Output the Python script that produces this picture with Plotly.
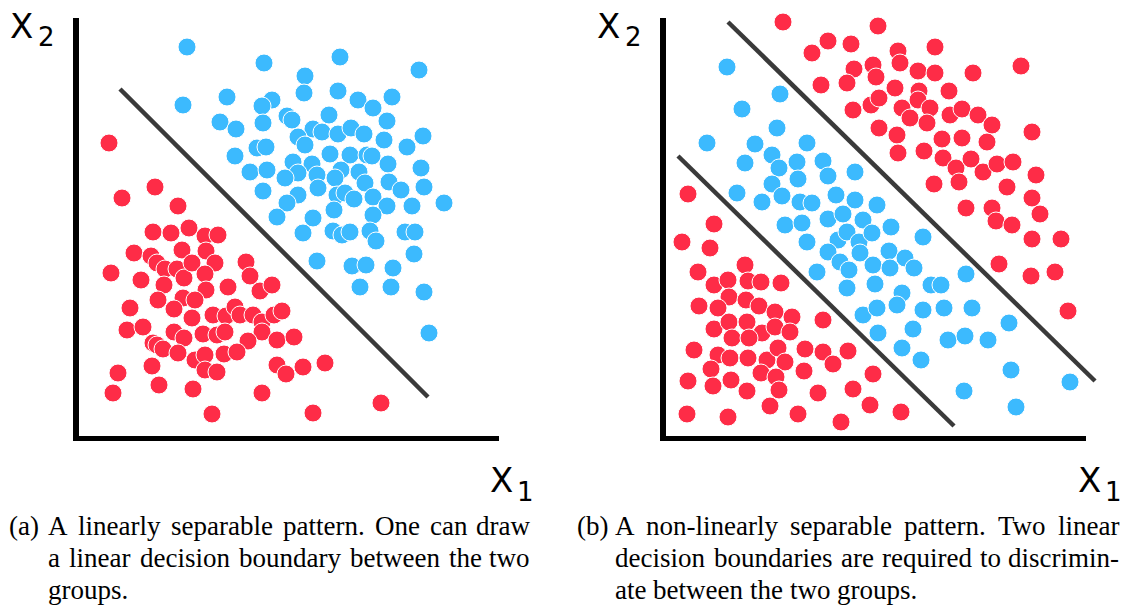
import plotly.graph_objects as go

W, H = 1129, 608

# ---------------- Panel (a): linearly separable ----------------
a_blue_x1 = [108,185,261,340,226,104,148,193,183,225,259,279,294,313,141,157,184,208,213,250,308,234,243,259,272,285,219,305,344,178,187,226,328,156,251,271,288,293,214,233,309,342,171,188,219,238,262,256,280,206,286,310,322,345,184,239,219,258,266,275,294,208,308,333,365,255,198,234,294,224,254,263,271,291,297,326,336,335,238,273,287,314,281,312,345,350]
a_blue_x2 = [389,373,379,366,360,331,339,336,330,343,345,336,328,339,314,307,313,320,316,321,315,307,304,302,308,302,299,296,300,288,289,291,289,280,282,281,281,280,274,272,272,268,264,266,263,261,266,258,264,258,253,254,246,249,245,248,241,241,243,237,239,233,230,230,233,226,219,218,221,203,205,201,204,205,195,204,204,182,175,170,171,168,149,149,144,103]
a_red_x1 = [30,76,43,99,74,92,110,126,139,55,72,103,127,32,78,86,98,105,113,136,126,62,85,127,149,167,171,181,193,79,104,116,95,51,113,134,147,156,161,174,183,195,203,48,64,95,105,124,138,146,183,169,198,215,74,78,84,99,116,126,126,138,145,158,39,73,80,34,114,198,207,183,133,224,246,234,302]
a_red_x2 = [293,249,238,230,204,203,208,200,201,183,180,186,185,163,173,167,167,158,173,173,162,156,151,146,149,174,160,145,151,136,138,136,127,128,118,121,120,129,121,121,114,121,125,106,109,104,98,102,101,104,104,95,96,99,93,91,87,83,76,81,66,64,82,84,63,70,51,43,47,71,62,43,22,69,73,23,33]
a_boundary_x1 = [41, 349]
a_boundary_x2 = [347, 39]

# ---------------- Panel (b): non-linearly separable ----------------
b_blue_x1 = [61,114,76,111,41,89,141,106,79,131,157,113,132,162,189,106,71,96,116,134,146,170,189,211,162,177,197,119,136,141,172,181,193,206,162,174,194,151,183,207,181,209,197,211,212,225,257,223,239,248,224,236,231,265,275,300,257,278,306,247,282,299,322,343,236,255,345,404,298,350]
b_blue_x2 = [369,342,327,308,293,292,293,281,273,274,275,268,257,260,264,252,243,234,240,234,233,241,236,231,217,222,216,211,213,194,196,204,194,203,184,174,183,164,166,171,148,152,121,128,103,209,199,185,178,168,168,143,131,151,151,162,126,128,128,107,96,100,96,113,88,76,66,54,45,29]
b_red_x1 = [117,171,212,162,185,146,188,207,155,181,210,187,205,213,213,269,232,234,252,269,307,355,229,253,252,264,283,236,244,261,284,296,312,326,231,276,296,321,366,232,258,277,290,305,317,331,347,370,268,293,341,366,300,326,330,346,374,366,395,333,365,389,402,
            22,48,16,44,79,32,48,62,82,95,115,63,33,52,80,93,109,126,157,48,63,81,96,109,124,66,83,28,52,64,82,101,112,119,139,157,167,182,45,65,95,110,138,22,47,81,113,152,187,104,21,62,132,175,207,204,235]
b_red_x2 = [414,419,410,395,392,383,367,371,351,353,359,326,331,338,308,389,385,373,365,363,363,370,348,345,336,328,345,328,318,313,321,327,321,311,301,297,298,294,304,283,285,278,268,277,264,272,274,261,252,254,249,238,228,228,215,211,222,197,197,172,160,164,125,
            242,212,194,188,171,164,151,156,155,154,153,139,130,128,136,130,124,119,116,107,114,114,103,109,104,98,98,86,81,78,78,76,88,74,87,84,72,85,67,56,63,59,65,55,50,45,46,43,47,30,22,19,22,14,62,31,24]
b_upper_x1 = [62, 429]
b_upper_x2 = [414, 55]
b_lower_x1 = [12, 288]
b_lower_x2 = [280, 10]

RED = "#FE2C47"
BLUE = "#3CBAFE"
LINE = "#3a3a3a"

fig = go.Figure()

def dots(x, y, color, xa, ya):
    fig.add_trace(go.Scatter(x=x, y=y, mode="markers", xaxis=xa, yaxis=ya, cliponaxis=False,
                             marker=dict(size=18, color=color, line=dict(color="white", width=1)),
                             hoverinfo="skip"))

def boundary(x, y, xa, ya):
    fig.add_trace(go.Scatter(x=x, y=y, mode="lines", xaxis=xa, yaxis=ya,
                             line=dict(color=LINE, width=4.5), hoverinfo="skip"))

dots(a_blue_x1, a_blue_x2, BLUE, "x", "y")
dots(a_red_x1, a_red_x2, RED, "x", "y")
boundary(a_boundary_x1, a_boundary_x2, "x", "y")

dots(b_blue_x1, b_blue_x2, BLUE, "x2", "y2")
dots(b_red_x1, b_red_x2, RED, "x2", "y2")
boundary(b_upper_x1, b_upper_x2, "x3", "y3")
boundary(b_lower_x1, b_lower_x2, "x3", "y3")

ydom = [(H - 436) / H, (H - 18) / H]
axis_common = dict(showgrid=False, zeroline=False, showticklabels=False, ticks="",
                   showline=True, linecolor="black", mirror=False, fixedrange=True)

fig.update_layout(
    width=W, height=H, margin=dict(l=0, r=0, t=0, b=0),
    paper_bgcolor="white", plot_bgcolor="rgba(0,0,0,0)", showlegend=False,
    xaxis=dict(domain=[79 / W, 499 / W], range=[0, 420], anchor="y", linewidth=5, **axis_common),
    yaxis=dict(domain=ydom, range=[0, 418], anchor="x", linewidth=6, **axis_common),
    xaxis2=dict(domain=[666 / W, 1086 / W], range=[0, 420], anchor="y2", linewidth=5, **axis_common),
    yaxis2=dict(domain=ydom, range=[0, 418], anchor="x2", linewidth=6, **axis_common),
    xaxis3=dict(domain=[666 / W, 1110 / W], range=[0, 444], anchor="y3", visible=False, fixedrange=True),
    yaxis3=dict(domain=ydom, range=[0, 418], anchor="x3", visible=False, fixedrange=True),
)

ann = []

def label(text, px, py, size, xanchor="center"):
    ann.append(dict(text=text, x=px / W, y=1 - py / H, xref="paper", yref="paper",
                    xanchor=xanchor, yanchor="middle", showarrow=False, borderpad=0,
                    font=dict(family="DejaVu Sans", size=size, color="black")))

# axis titles
label("X", 21.5, 26, 34); label("2", 46, 37, 26)
label("X", 501, 480, 34); label("1", 525, 492, 26)
label("X", 608.5, 26, 34); label("2", 633, 37, 26)
label("X", 1089, 480, 34); label("1", 1113, 492, 26)

# captions (justified, Times metrics)
TIMES = {' ': 250, '(': 333, ')': 333, '-': 333, '.': 250,
         'a': 444, 'b': 500, 'c': 444, 'd': 500, 'e': 444, 'f': 333, 'g': 500, 'h': 500,
         'i': 278, 'j': 278, 'k': 500, 'l': 278, 'm': 778, 'n': 500, 'o': 500, 'p': 500,
         'q': 500, 'r': 333, 's': 389, 't': 278, 'u': 500, 'v': 500, 'w': 722, 'x': 500,
         'y': 500, 'z': 444, 'A': 722, 'O': 722, 'T': 611}
CAP_SIZE = 27
CAP_FONT = "Liberation Serif, Times New Roman, Times, serif"

def tw(s):
    return sum(TIMES.get(c, 500) for c in s) / 1000 * CAP_SIZE

def word(text, px, py, xanchor="left"):
    ann.append(dict(text=text, x=px / W, y=1 - py / H, xref="paper", yref="paper",
                    xanchor=xanchor, yanchor="middle", showarrow=False, borderpad=0,
                    font=dict(family=CAP_FONT, size=CAP_SIZE, color="black")))

def line(text, x0, x1, py, justify=True):
    words = text.split(" ")
    widths = [tw(w) for w in words]
    if justify and len(words) > 1:
        gap = (x1 - x0 - sum(widths)) / (len(words) - 1)
    else:
        gap = tw(" ")
    x = x0
    for i, (w, wd) in enumerate(zip(words, widths)):
        if justify and i == len(words) - 1 and len(words) > 1:
            word(w, x1, py, "right")
        else:
            word(w, x, py)
        x += wd + gap

word("(a)", 8, 526)
line("A linearly separable pattern. One can draw", 47, 531, 526)
line("a linear decision boundary between the two", 47, 531, 558)
line("groups.", 47, 531, 590, justify=False)

word("(b)", 576, 526)
line("A non-linearly separable pattern. Two linear", 614, 1120, 526)
line("decision boundaries are required to discrimin-", 614, 1120, 558)
line("ate between the two groups.", 614, 1120, 590, justify=False)

fig.update_layout(annotations=ann)
fig.write_html("out.html")
